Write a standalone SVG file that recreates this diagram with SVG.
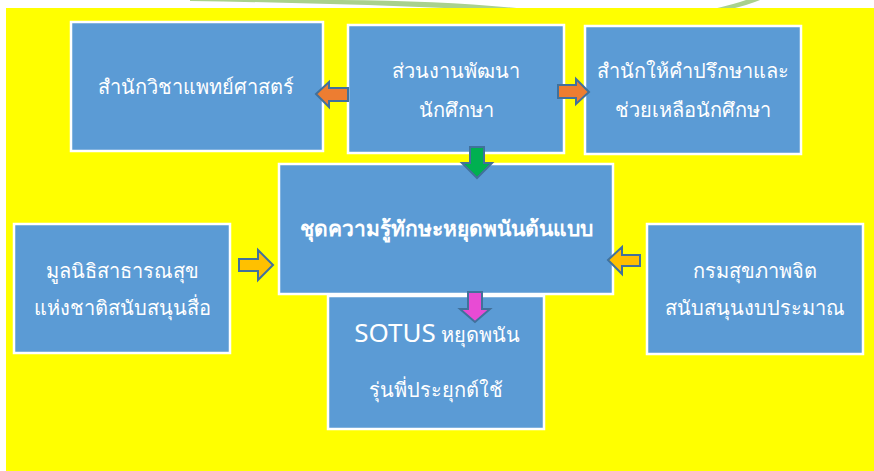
<svg xmlns="http://www.w3.org/2000/svg" width="874" height="471" viewBox="0 0 874 471">
<style>
.box{fill:#5B9BD5;stroke:#FFFFFF;stroke-width:2.5}
.t{font-family:"Noto Sans","DejaVu Sans",sans-serif;font-size:20px;fill:#FFFFFF;text-anchor:middle}
.b{font-weight:bold;font-size:21px}
.arr{stroke:#41719C;stroke-width:2;stroke-linejoin:miter}
</style>
<rect width="874" height="471" fill="#FFFFFF"/>
<path d="M190,0 L340,0 Q450,1 525,9 L470,9 Q330,3 190,1 Z" fill="#A9D18E"/>
<path d="M713,9 Q735,4 746,0 L760,0 Q748,5 731,9 Z" fill="#A9D18E"/>
<rect x="6" y="8" width="868" height="463" fill="#FFFF00"/>
<g id="n1"><rect class="box" x="71" y="22" width="252" height="129"/><text class="t" x="196" y="94">สำนักวิชาแพทย์ศาสตร์</text></g>
<g id="n2"><rect class="box" x="348" y="25" width="216" height="128"/><text class="t" x="456" y="78">ส่วนงานพัฒนา</text><text class="t" x="456" y="117">นักศึกษา</text></g>
<g id="n3"><rect class="box" x="585" y="26" width="216" height="128"/><text class="t" x="693" y="78">สำนักให้คำปรึกษาและ</text><text class="t" x="693" y="117">ช่วยเหลือนักศึกษา</text></g>
<g id="n4"><rect class="box" x="279" y="164" width="334" height="130"/><text class="t b" x="446" y="236">ชุดความรู้ทักษะหยุดพนันต้นแบบ</text></g>
<g id="n5"><rect class="box" x="14" y="224" width="216" height="129"/><text class="t" x="122" y="278">มูลนิธิสาธารณสุข</text><text class="t" x="122" y="315">แห่งชาติสนับสนุนสื่อ</text></g>
<g id="n6"><rect class="box" x="647" y="224" width="216" height="130"/><text class="t" x="755" y="278">กรมสุขภาพจิต</text><text class="t" x="755" y="315">สนับสนุนงบประมาณ</text></g>
<g id="n7"><rect class="box" x="328" y="296" width="216" height="133"/><text class="t" x="437" y="342"><tspan font-size="26px">SOTUS</tspan> หยุดพนัน</text><text class="t" x="436" y="397">รุ่นพี่ประยุกต์ใช้</text></g>
<g id="connectors">
<path class="arr" fill="#ED7D31" d="M316,94 L329,82 L329,88 L348,88 L348,101 L329,101 L329,107 Z"/>
<path class="arr" fill="#ED7D31" d="M589,92 L576,79 L576,85 L558,85 L558,98 L576,98 L576,104 Z"/>
<path class="arr" fill="#00B050" d="M477,178 L462,163 L470,163 L470,147 L484,147 L484,163 L492,163 Z"/>
<path class="arr" fill="#FFC000" d="M273,265 L258,250 L258,259 L239,259 L239,271 L258,271 L258,280 Z"/>
<path class="arr" fill="#FFC000" d="M608,260 L622,247 L622,255 L640,255 L640,266 L622,266 L622,274 Z"/>
<path class="arr" fill="#E84BD4" d="M475,322 L460,309 L468,309 L468,292 L482,292 L482,309 L490,309 Z"/>
</g>
</svg>
